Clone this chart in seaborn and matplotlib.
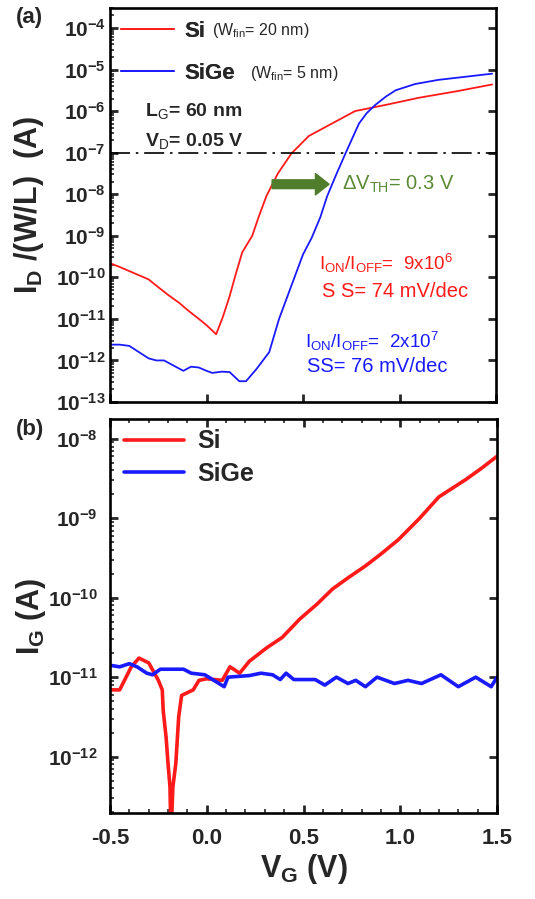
import numpy as np
import pandas as pd
import matplotlib
matplotlib.use("Agg")
import matplotlib.pyplot as plt
import seaborn as sns
from matplotlib.ticker import FixedLocator, FuncFormatter, LogLocator, MultipleLocator, NullFormatter

# ---------------- data (log10 of current) ----------------
vg_id_si = [-0.50, -0.45, -0.40, -0.35, -0.30, -0.26, -0.20, -0.14, -0.10, -0.04, 0.00, 0.05,
            0.085, 0.12, 0.15, 0.185, 0.237, 0.27, 0.31, 0.37, 0.44, 0.53, 0.65, 0.77, 0.93,
            1.10, 1.30, 1.48]
log_id_si = [-9.66, -9.75, -9.85, -9.95, -10.05, -10.2, -10.42, -10.62, -10.78, -11.0, -11.15, -11.37,
             -10.95, -10.45, -9.95, -9.4, -9.0, -8.55, -8.05, -7.5, -7.02, -6.6, -6.3, -6.0, -5.85,
             -5.68, -5.52, -5.36]

vg_id_sige = [-0.50, -0.45, -0.40, -0.35, -0.30, -0.26, -0.22, -0.18, -0.14, -0.12, -0.08, -0.04,
              0.00, 0.03, 0.08, 0.12, 0.17, 0.205, 0.26, 0.325, 0.376, 0.42, 0.46, 0.50, 0.545,
              0.59, 0.625, 0.67, 0.72, 0.79, 0.83, 0.875, 0.93, 0.98, 1.08, 1.20, 1.35, 1.48]
log_id_sige = [-11.62, -11.62, -11.65, -11.8, -11.95, -12.0, -12.0, -12.1, -12.2, -12.25, -12.15, -12.17,
               -12.25, -12.3, -12.27, -12.28, -12.5, -12.5, -12.2, -11.8, -11.0, -10.45, -9.95, -9.45, -9.05,
               -8.55, -8.05, -7.55, -7.02, -6.3, -6.05, -5.85, -5.65, -5.5, -5.35, -5.25, -5.17, -5.1]

vg_ig_si = [-0.50, -0.45, -0.39, -0.35, -0.30, -0.25, -0.23, -0.225, -0.21, -0.20, -0.19, -0.185,
            -0.175, -0.16, -0.145, -0.13, -0.07, -0.04, 0.00, 0.08, 0.12, 0.17, 0.22, 0.31, 0.39,
            0.48, 0.57, 0.65, 0.73, 0.82, 0.90, 0.99, 1.10, 1.20, 1.27, 1.34, 1.42, 1.50]
log_ig_si = [-11.16, -11.16, -10.87, -10.76, -10.82, -11.04, -11.16, -11.42, -11.76, -12.09, -12.38, -13.0,
             -12.38, -12.09, -11.5, -11.23, -11.16, -11.04, -11.02, -11.04, -10.87, -10.95, -10.8, -10.63, -10.5,
             -10.27, -10.08, -9.89, -9.75, -9.6, -9.45, -9.27, -9.0, -8.73, -8.62, -8.51, -8.37, -8.22]

vg_ig_sige = [-0.50, -0.45, -0.40, -0.36, -0.31, -0.28, -0.24, -0.12, -0.08, -0.01, 0.05, 0.09,
              0.11, 0.22, 0.28, 0.34, 0.38, 0.41, 0.45, 0.56, 0.61, 0.67, 0.73, 0.77, 0.82,
              0.88, 0.97, 1.04, 1.11, 1.21, 1.30, 1.39, 1.47, 1.50]
log_ig_sige = [-10.85, -10.87, -10.83, -10.87, -10.95, -10.97, -10.9, -10.9, -10.95, -10.97, -11.06, -11.12,
               -11.0, -10.98, -10.95, -10.97, -11.03, -10.95, -11.03, -11.03, -11.1, -11.0, -11.08, -11.04, -11.12,
               -11.0, -11.08, -11.04, -11.08, -10.97, -11.12, -11.0, -11.12, -11.0]

id_decades = [-13, -12, -11, -10, -9, -8, -7, -6, -5, -4]
ig_decades = [-12, -11, -10, -9, -8]
x_ticks = [-0.5, 0.0, 0.5, 1.0, 1.5]

RED = "#ff1a1a"
BLUE = "#1a1aff"
GREEN = "#4f7d2c"

# ---------------- style ----------------
sns.set_style("ticks")
plt.rcParams["font.family"] = ["Liberation Sans", "DejaVu Sans"]
plt.rcParams["mathtext.fontset"] = "custom"
plt.rcParams["mathtext.rm"] = "Liberation Sans"
plt.rcParams["mathtext.bf"] = "Liberation Sans:bold"
plt.rcParams["mathtext.it"] = "Liberation Sans:italic"
plt.rcParams["axes.linewidth"] = 1.9
plt.rcParams["axes.edgecolor"] = "black"

fig = plt.figure(figsize=(5.35, 8.99), dpi=100)
W, H = 535.0, 899.0
A1_TOP, A1_BOT = 8.0, 402.0
ax1 = fig.add_axes([110 / W, 1 - A1_BOT / H, (496 - 110) / W, (A1_BOT - A1_TOP) / H])
ax2 = fig.add_axes([110 / W, 1 - 813 / H, (497 - 110) / W, (813 - 419) / H])

df_a = pd.concat([
    pd.DataFrame({"VG": vg_id_si, "I": 10.0 ** np.array(log_id_si), "dev": "Si"}),
    pd.DataFrame({"VG": vg_id_sige, "I": 10.0 ** np.array(log_id_sige), "dev": "SiGe"}),
])
df_b = pd.concat([
    pd.DataFrame({"VG": vg_ig_si, "I": 10.0 ** np.array(log_ig_si), "dev": "Si"}),
    pd.DataFrame({"VG": vg_ig_sige, "I": 10.0 ** np.array(log_ig_sige), "dev": "SiGe"}),
])
pal = {"Si": RED, "SiGe": BLUE}

sns.lineplot(data=df_a, x="VG", y="I", hue="dev", palette=pal, estimator=None, sort=False,
             lw=1.3, ax=ax1, legend=False)
sns.lineplot(data=df_b, x="VG", y="I", hue="dev", palette=pal, estimator=None, sort=False,
             lw=2.6, ax=ax2, legend=False)

def dec_fmt(v, pos):
    e = int(round(np.log10(v)))
    return r"$\mathbf{10^{%d}}$" % e

for ax in (ax1, ax2):
    ax.set_yscale("log")
    ax.set_xlim(-0.5, 1.5)
    ax.set_xlabel("")
    ax.set_ylabel("")
    ax.tick_params(which="major", direction="in", length=6, width=2.0, right=True, top=True)
    ax.tick_params(which="minor", direction="in", length=3, width=1.2, right=False)

# panel a axes
ax1.set_ylim(1e-13, 10 ** -3.52)
ax1.yaxis.set_major_locator(FixedLocator([10.0 ** e for e in id_decades]))
ax1.yaxis.set_major_formatter(FuncFormatter(dec_fmt))
ax1.yaxis.set_minor_locator(LogLocator(base=10, subs=np.arange(2, 10), numticks=30))
ax1.yaxis.set_minor_formatter(NullFormatter())
ax1.xaxis.set_major_locator(FixedLocator(x_ticks))
ax1.tick_params(axis="x", which="both", labelbottom=False, top=False)
ax1.tick_params(axis="y", which="major", labelsize=15, pad=3)

# panel b axes
ax2.set_ylim(10 ** -12.71, 10 ** -7.75)
ax2.yaxis.set_major_locator(FixedLocator([10.0 ** e for e in ig_decades]))
ax2.yaxis.set_major_formatter(FuncFormatter(dec_fmt))
ax2.yaxis.set_minor_locator(LogLocator(base=10, subs=np.arange(2, 10), numticks=30))
ax2.yaxis.set_minor_formatter(NullFormatter())
ax2.xaxis.set_major_locator(FixedLocator(x_ticks))
ax2.xaxis.set_minor_locator(MultipleLocator(0.1))
ax2.xaxis.set_major_formatter(FuncFormatter(lambda v, p: "%.1f" % v))
ax2.tick_params(axis="x", which="minor", top=True, bottom=True)
ax2.tick_params(axis="y", which="major", labelsize=15, pad=9)
ax2.tick_params(axis="x", which="major", labelsize=16, pad=11)
for lab in ax2.get_xticklabels():
    lab.set_fontweight("bold")

# axis labels
ax1.set_ylabel(r"$\mathbf{I_D}$ /(W/L)  (A)", fontsize=22, fontweight="bold")
ax2.set_ylabel(r"$\mathbf{I_G}$ (A)", fontsize=22, fontweight="bold")
ax2.set_xlabel(r"$\mathbf{V_G}$ (V)", fontsize=22, fontweight="bold", labelpad=2)
ax1.yaxis.set_label_coords((46 - 110) / 386, 0.5)
ax2.yaxis.set_label_coords((48 - 110) / 387, 0.5)

def a1y(py):
    return 1 - (py - A1_TOP) / (A1_BOT - A1_TOP)

# panel a legend
h = ax1.get_lines()[:2]
leg1 = ax1.legend(h, ["Si", "SiGe"], loc="upper left", bbox_to_anchor=(-0.012, a1y(5)),
                  frameon=False, handlelength=2.4, handletextpad=0.45, labelspacing=0.95,
                  prop={"size": 16, "weight": "bold"}, borderaxespad=0.3)
ax1.add_artist(leg1)
ax1.text((212 - 110) / 386, a1y(35), r"(W$_{\rm fin}$= 20 nm)", transform=ax1.transAxes,
         fontsize=11.5, va="baseline", ha="left")
ax1.text((250 - 110) / 386, a1y(78), r"(W$_{\rm fin}$= 5 nm)", transform=ax1.transAxes,
         fontsize=11.5, va="baseline", ha="left")

ax1.text(-0.32, 10 ** -6.0, r"L$_{\rm G}$= 60 nm", fontsize=14, fontweight="bold", va="center")
ax1.text(-0.32, 10 ** -6.72, r"V$_{\rm D}$= 0.05 V", fontsize=14, fontweight="bold", va="center")

ax1.axhline(1e-7, color="black", lw=1.2, ls=(0, (12, 3.5, 1.5, 3.5)))

ax1.annotate("", xy=(0.635, 10 ** -7.76), xytext=(0.34, 10 ** -7.76),
             arrowprops=dict(arrowstyle="simple,head_length=0.7,head_width=1.1,tail_width=0.45",
                             color=GREEN, mutation_scale=14, shrinkA=0, shrinkB=0))
ax1.text(0.70, 10 ** -7.76, r"$\Delta$V$_{\rm TH}$= 0.3 V", color="#5b8a36", fontsize=14.5,
         va="center", ha="left")

ax1.text(0.585, 10 ** -9.67, r"I$_{\rm ON}$/I$_{\rm OFF}$=  9x10$^{6}$", color=RED, fontsize=13.5,
         va="center", ha="left")
ax1.text(0.60, 10 ** -10.35, "S S= 74 mV/dec", color=RED, fontsize=14.5, va="center", ha="left")
ax1.text(0.51, 10 ** -11.55, r"I$_{\rm ON}$/I$_{\rm OFF}$=  2x10$^{7}$", color=BLUE, fontsize=13.5,
         va="center", ha="left")
ax1.text(0.52, 10 ** -12.15, "SS= 76 mV/dec", color=BLUE, fontsize=14.5, va="center", ha="left")

# panel b legend
h2 = ax2.get_lines()[:2]
ax2.legend(h2, ["Si", "SiGe"], loc="upper left", bbox_to_anchor=(-0.008, 1.018), frameon=False,
           handlelength=2.4, handletextpad=0.5, labelspacing=0.35,
           prop={"size": 18, "weight": "bold"}, borderaxespad=0.3)

fig.text(16 / W, 1 - 18 / H, "(a)", fontsize=16, fontweight="bold", va="center", ha="left")
fig.text(16 / W, 1 - 430 / H, "(b)", fontsize=16, fontweight="bold", va="center", ha="left")

fig.savefig("out.png", dpi=100)
